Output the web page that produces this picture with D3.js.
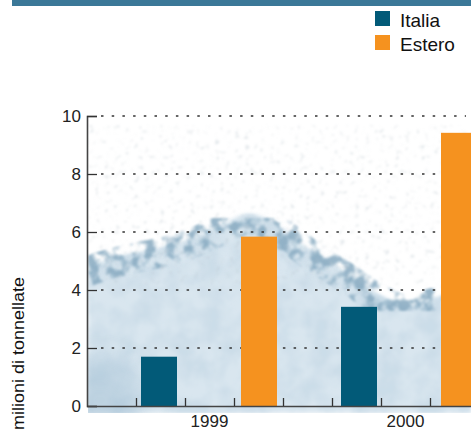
<!DOCTYPE html>
<html>
<head>
<meta charset="utf-8">
<script src="https://cdn.jsdelivr.net/npm/d3@7"></script>
<style>
  body { margin: 0; background: #fff; overflow: hidden; }
  svg { display: block; font-family: "Liberation Sans", Arial, sans-serif; }
</style>
</head>
<body>
<svg id="chart"></svg>
<script>
// dati
const years = ["1999", "2000"];
const series = ["Italia", "Estero"];
const italia = [1.70, 3.42];
const estero = [5.84, 9.42];
const yTicks = [0, 2, 4, 6, 8, 10];
const yLabel = "milioni di tonnellate";
const seriesColors = ["#025a78", "#f5921f"];

const width = 471, height = 430;
const svg = d3.select('#chart').attr('width', width).attr('height', height);

const y = d3.scaleLinear().domain([0, 10]).range([406, 116]);
const x0 = d3.scaleBand().domain(years).range([109, 509]);
const x1 = d3.scaleBand().domain(series).range([0, x0.bandwidth()])
    .paddingInner(0.64).paddingOuter(0.32);
const xq = d3.scaleLinear().domain([0, 8]).range([87, 479]); // trimestri
const color = d3.scaleOrdinal().domain(series).range(seriesColors);

// banda del titolo in alto
svg.append('rect').attr('x', 12).attr('y', 0).attr('width', width - 12).attr('height', 6)
    .attr('fill', '#3b7898');

// sfondo: texture "ghiaccio" sfumata (solo decorazione)
const defs = svg.append('defs');
defs.append('clipPath').attr('id', 'plotClip')
    .append('rect').attr('x', 88).attr('y', 100).attr('width', width - 88).attr('height', 313);

const soft = defs.append('filter').attr('id', 'soft')
    .attr('x', '-20%').attr('y', '-20%').attr('width', '140%').attr('height', '140%');
soft.append('feGaussianBlur').attr('stdDeviation', 2.2);

const wide = defs.append('filter').attr('id', 'wide')
    .attr('x', '-50%').attr('y', '-50%').attr('width', '200%').attr('height', '200%');
wide.append('feGaussianBlur').attr('stdDeviation', 14);

const soft2 = defs.append('filter').attr('id', 'soft2')
    .attr('x', '-10%').attr('y', '-10%').attr('width', '120%').attr('height', '120%');
soft2.append('feGaussianBlur').attr('stdDeviation', 0.9);

function noiseFilter(id, freq, seed, rgb, a, b) {
    const f = defs.append('filter').attr('id', id)
        .attr('x', 0).attr('y', 0).attr('width', '100%').attr('height', '100%');
    f.append('feTurbulence').attr('type', 'fractalNoise').attr('baseFrequency', freq)
        .attr('numOctaves', 3).attr('seed', seed).attr('result', 'n');
    f.append('feColorMatrix').attr('in', 'n').attr('type', 'matrix')
        .attr('values', `0 0 0 0 ${rgb[0]}  0 0 0 0 ${rgb[1]}  0 0 0 0 ${rgb[2]}  ${a} 0 0 0 ${b}`)
        .attr('result', 'c');
    f.append('feComposite').attr('in', 'c').attr('in2', 'SourceGraphic').attr('operator', 'in');
}
noiseFilter('mottle', 0.045, 4, [0.55, 0.68, 0.78], 2.6, -0.85);
noiseFilter('edgeSpeck', 0.09, 9, [0.24, 0.40, 0.53], 4.2, -1.75);
noiseFilter('upSpeck', 0.2, 2, [0.45, 0.52, 0.58], 5, -3.1);

const edge = [[88, 266], [110, 259], [130, 254], [150, 250], [175, 244], [200, 235], [225, 223],
    [247, 214], [265, 218], [287, 232], [313, 252], [347, 273], [380, 295], [407, 305],
    [433, 298], [471, 292]];
const iceArea = d3.area().curve(d3.curveCatmullRom).x(d => d[0]).y0(413).y1(d => d[1]);
const iceLine = d3.line().curve(d3.curveCatmullRom);

const ice = svg.append('g').attr('clip-path', 'url(#plotClip)');
ice.append('path').attr('d', iceArea(edge)).attr('fill', '#d9e6ef').attr('filter', 'url(#soft)');
ice.append('g').attr('filter', 'url(#soft2)')
    .append('path').attr('d', iceArea(edge)).attr('fill', '#000').attr('filter', 'url(#mottle)')
    .attr('opacity', 0.6);
ice.append('ellipse').attr('cx', 100).attr('cy', 400).attr('rx', 45).attr('ry', 40)
    .attr('fill', '#9dbbd0').attr('opacity', 0.45).attr('filter', 'url(#wide)');
ice.append('g').attr('filter', 'url(#soft2)')
    .append('path').attr('d', iceLine(edge.map(d => [d[0], d[1] + 5])))
    .attr('fill', 'none').attr('stroke', '#000').attr('stroke-width', 30)
    .attr('filter', 'url(#edgeSpeck)').attr('opacity', 0.85);
ice.append('g').attr('filter', 'url(#soft2)')
    .append('rect').attr('x', 88).attr('y', 125).attr('width', width - 88).attr('height', 160)
    .attr('fill', '#000').attr('filter', 'url(#upSpeck)').attr('opacity', 0.35);

// griglia tratteggiata
svg.append('g').selectAll('line')
    .data(yTicks.filter(t => t > 0))
    .enter().append('line')
    .attr('x1', 101).attr('x2', 466)
    .attr('y1', d => y(d)).attr('y2', d => y(d))
    .attr('stroke', '#333').attr('stroke-width', 1.3)
    .attr('stroke-dasharray', '2.5,8.2');

// barre
const groups = svg.append('g').selectAll('g')
    .data(years.map((yr, i) => ({ year: yr, values: [italia[i], estero[i]] })))
    .enter().append('g')
    .attr('transform', d => `translate(${x0(d.year)},0)`);
groups.selectAll('rect')
    .data(d => series.map((s, j) => ({ key: s, value: d.values[j] })))
    .enter().append('rect')
    .attr('x', d => x1(d.key))
    .attr('y', d => y(d.value))
    .attr('width', x1.bandwidth())
    .attr('height', d => y(0) - y(d.value))
    .attr('fill', d => color(d.key));

// asse y
const yAxis = svg.append('g').attr('transform', 'translate(87,0)')
    .call(d3.axisLeft(y).tickValues(yTicks).tickSize(-10).tickPadding(6));
yAxis.select('.domain').attr('stroke', '#444').attr('stroke-width', 1.6);
yAxis.selectAll('.tick line').attr('stroke', '#333').attr('stroke-width', 1.3);
yAxis.selectAll('.tick text').attr('font-size', 17).attr('fill', '#222')
    .attr('font-family', '"Liberation Sans", Arial, sans-serif');

// asse x (tacche trimestrali)
const xAxis = svg.append('g').attr('transform', 'translate(0,406)')
    .call(d3.axisBottom(xq).tickValues(d3.range(1, 8)).tickSizeInner(-8).tickSizeOuter(0).tickFormat(''));
xAxis.select('.domain').attr('stroke', '#444').attr('stroke-width', 1.6);
xAxis.selectAll('.tick line').attr('stroke', '#333').attr('stroke-width', 1.3);

svg.append('g').selectAll('text')
    .data(years)
    .enter().append('text')
    .attr('x', (d, i) => xq(i * 4 + 2.5))
    .attr('y', 427)
    .attr('text-anchor', 'middle')
    .attr('font-size', 17).attr('fill', '#222')
    .text(d => d);

// titolo asse y
svg.append('text')
    .attr('transform', 'translate(24,277) rotate(-90)')
    .attr('text-anchor', 'end')
    .attr('font-size', 16).attr('fill', '#111')
    .attr('textLength', 153).attr('lengthAdjust', 'spacingAndGlyphs')
    .text(yLabel);

// legenda
const legend = svg.append('g').selectAll('g')
    .data(series)
    .enter().append('g')
    .attr('transform', (d, i) => `translate(375,${11 + i * 24})`);
legend.append('rect').attr('width', 15).attr('height', 15).attr('fill', d => color(d));
legend.append('text').attr('x', 25).attr('y', 15.5)
    .attr('font-size', 19).attr('fill', '#111')
    .text(d => d);
</script>
</body>
</html>
